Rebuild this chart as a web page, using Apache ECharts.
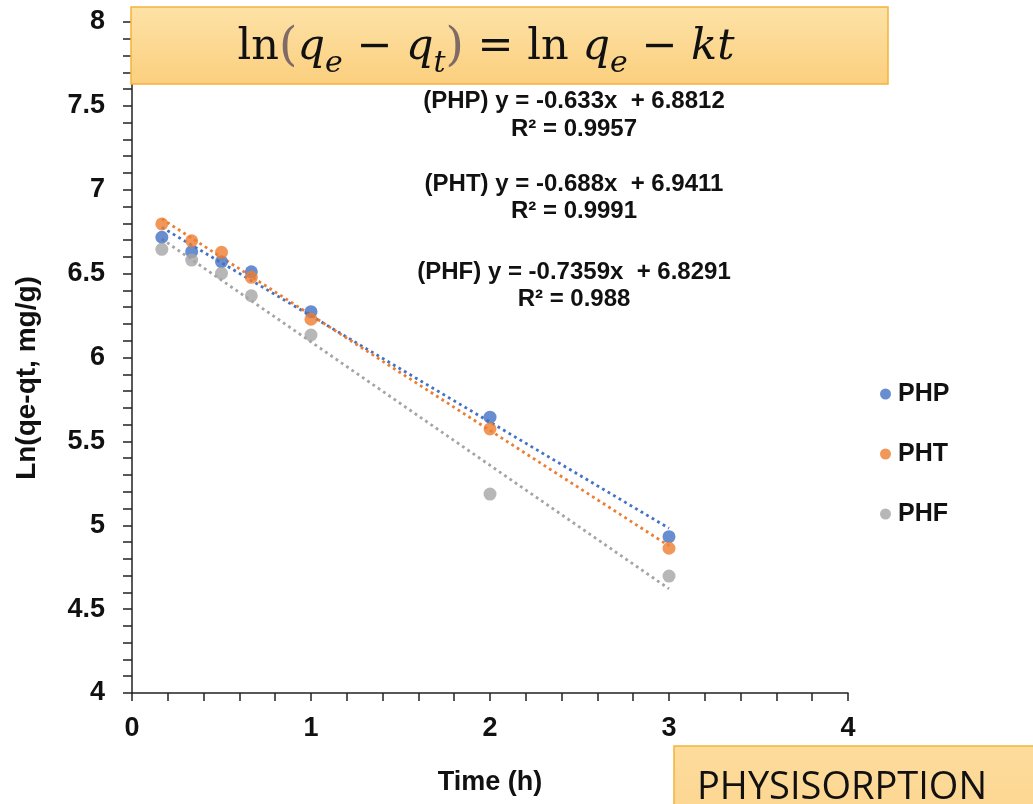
<!DOCTYPE html>
<html>
<head>
<meta charset="utf-8">
<script src="https://cdn.jsdelivr.net/npm/echarts@6/dist/echarts.min.js"></script>
<style>
html,body{margin:0;padding:0;background:#fff;}
#chart{width:1033px;height:804px;}
</style>
</head>
<body>
<div id="chart"></div>
<script>
// ---- data ----
const seriesNames = ['PHP', 'PHT', 'PHF'];
const timeH = [0.1667, 0.3333, 0.5, 0.6667, 1, 2, 3];
const phpValues = [6.717, 6.631, 6.571, 6.511, 6.273, 5.644, 4.932];
const phtValues = [6.796, 6.696, 6.627, 6.478, 6.228, 5.574, 4.863];
const phfValues = [6.645, 6.581, 6.502, 6.368, 6.134, 5.186, 4.697];
const slopes = [-0.633, -0.688, -0.7359];
const intercepts = [6.8812, 6.9411, 6.8291];
const r2Values = ['0.9957', '0.9991', '0.988'];
const slopeLabels = ['-0.633', '-0.688', '-0.7359'];
const interceptLabels = ['6.8812', '6.9411', '6.8291'];
const yTicks = [4, 4.5, 5, 5.5, 6, 6.5, 7, 7.5, 8];
const xTicks = [0, 1, 2, 3, 4];

const colors = ['#4472C4', '#ED7D31', '#A5A5A5'];
const allValues = [phpValues, phtValues, phfValues];

const chart = echarts.init(document.getElementById('chart'));

const series = [];
seriesNames.forEach((name, i) => {
  series.push({
    name: name,
    type: 'scatter',
    symbol: 'circle',
    symbolSize: 13,
    itemStyle: { color: colors[i] },
    data: timeH.map((t, j) => [t, allValues[i][j]]),
    z: 5
  });
});
seriesNames.forEach((name, i) => {
  const x0 = timeH[0], x1 = timeH[timeH.length - 1];
  series.push({
    name: name + ' trend',
    type: 'line',
    symbol: 'none',
    silent: true,
    lineStyle: { color: colors[i], width: 2.8, type: [2.8, 3.6], cap: 'butt' },
    data: [[x0, slopes[i] * x0 + intercepts[i]], [x1, slopes[i] * x1 + intercepts[i]]],
    z: 3
  });
});

const annY = [[101, 129], [184, 211], [272, 299]];
const graphics = [];
seriesNames.forEach((name, i) => {
  graphics.push({
    type: 'text', x: 574, y: annY[i][0],
    style: {
      text: '(' + name + ') y = ' + slopeLabels[i] + 'x  + ' + interceptLabels[i],
      font: 'bold 24px "Liberation Sans", Arial, sans-serif',
      fill: '#111', align: 'center', verticalAlign: 'middle'
    }, z: 10
  });
  graphics.push({
    type: 'text', x: 574, y: annY[i][1],
    style: {
      text: 'R² = ' + r2Values[i],
      font: 'bold 24px "Liberation Sans", Arial, sans-serif',
      fill: '#111', align: 'center', verticalAlign: 'middle'
    }, z: 10
  });
});

// axis titles
graphics.push({
  type: 'text', x: 490, y: 783,
  style: { text: 'Time (h)', font: 'bold 27px "Liberation Sans", Arial, sans-serif', fill: '#111', align: 'center', verticalAlign: 'middle' },
  z: 10
});
graphics.push({
  type: 'text', x: 27, y: 378, rotation: Math.PI / 2,
  style: { text: 'Ln(qe-qt, mg/g)', font: 'bold 28px "Liberation Sans", Arial, sans-serif', fill: '#111', align: 'center', verticalAlign: 'middle' },
  z: 10
});

// formula box
graphics.push({
  type: 'rect', shape: { x: 131, y: 7, width: 757, height: 77 },
  style: {
    fill: { type: 'linear', x: 0, y: 0, x2: 0, y2: 1, colorStops: [{ offset: 0, color: '#fde2a7' }, { offset: 1, color: '#fbcf7e' }] },
    stroke: '#f3b33d', lineWidth: 1.5
  }, z: 20
});
const serif = '"DejaVu Serif", "Liberation Serif", serif';
graphics.push({
  type: 'text', x: 486, y: 48,
  style: {
    text: '{n|ln}{p|(}{i|q}{s|e}{n| − }{i|q}{s|t}{p|)}{n| = ln }{i|q}{s|e}{n| − }{i|kt}',
    align: 'center', verticalAlign: 'middle',
    rich: {
      n: { fontFamily: serif, fontSize: 43, fill: '#111', lineHeight: 62, verticalAlign: 'middle' },
      p: { fontFamily: serif, fontSize: 47, fill: '#7f6a66', lineHeight: 62, verticalAlign: 'middle' },
      i: { fontFamily: serif, fontSize: 43, fontStyle: 'italic', fill: '#111', lineHeight: 62, verticalAlign: 'middle' },
      s: { fontFamily: serif, fontSize: 30, fontStyle: 'italic', fill: '#111', lineHeight: 62, verticalAlign: 'bottom' }
    }
  }, z: 21
});

// physisorption box
graphics.push({
  type: 'rect', shape: { x: 674, y: 746, width: 380, height: 80 },
  style: {
    fill: { type: 'linear', x: 0, y: 0, x2: 0, y2: 1, colorStops: [{ offset: 0, color: '#fddc9c' }, { offset: 1, color: '#fdd590' }] },
    stroke: '#f3b33d', lineWidth: 1.5
  }, z: 20
});
graphics.push({
  type: 'text', x: 697, y: 788,
  style: { text: 'PHYSISORPTION', font: '38px "Open Sans", "Liberation Sans", sans-serif', fill: '#111', align: 'left', verticalAlign: 'middle' },
  z: 21
});

chart.setOption({
  animation: false,
  backgroundColor: '#ffffff',
  grid: { left: 132, top: 22, width: 716, height: 671, containLabel: false },
  legend: {
    data: seriesNames,
    orient: 'vertical',
    left: 875, top: 374,
    icon: 'circle', itemWidth: 11, itemHeight: 11, itemGap: 30,
    textStyle: { fontFamily: '"Liberation Sans", Arial, sans-serif', fontWeight: 'bold', fontSize: 25, color: '#111', lineHeight: 30, padding: [0, 0, 0, 2] }
  },
  xAxis: {
    type: 'value', min: xTicks[0], max: xTicks[xTicks.length - 1], interval: 1,
    axisLine: { onZero: false, lineStyle: { color: '#222', width: 1.5 } },
    axisTick: { show: true, length: 8, lineStyle: { color: '#222', width: 1.5 } },
    minorTick: { show: true, splitNumber: 5, length: 8, lineStyle: { color: '#222', width: 1.5 } },
    splitLine: { show: false },
    axisLabel: { margin: 22, fontFamily: '"Liberation Sans", Arial, sans-serif', fontWeight: 'bold', fontSize: 27, color: '#111' }
  },
  yAxis: {
    type: 'value', min: yTicks[0], max: yTicks[yTicks.length - 1], interval: 0.5,
    axisLine: { show: true, lineStyle: { color: '#222', width: 1.5 } },
    axisTick: { show: true, length: 9, lineStyle: { color: '#222', width: 1.5 } },
    minorTick: { show: true, splitNumber: 5, length: 9, lineStyle: { color: '#222', width: 1.5 } },
    splitLine: { show: false },
    axisLabel: { margin: 27, fontFamily: '"Liberation Sans", Arial, sans-serif', fontWeight: 'bold', fontSize: 27, color: '#111' }
  },
  graphic: graphics,
  series: series
});
</script>
</body>
</html>
